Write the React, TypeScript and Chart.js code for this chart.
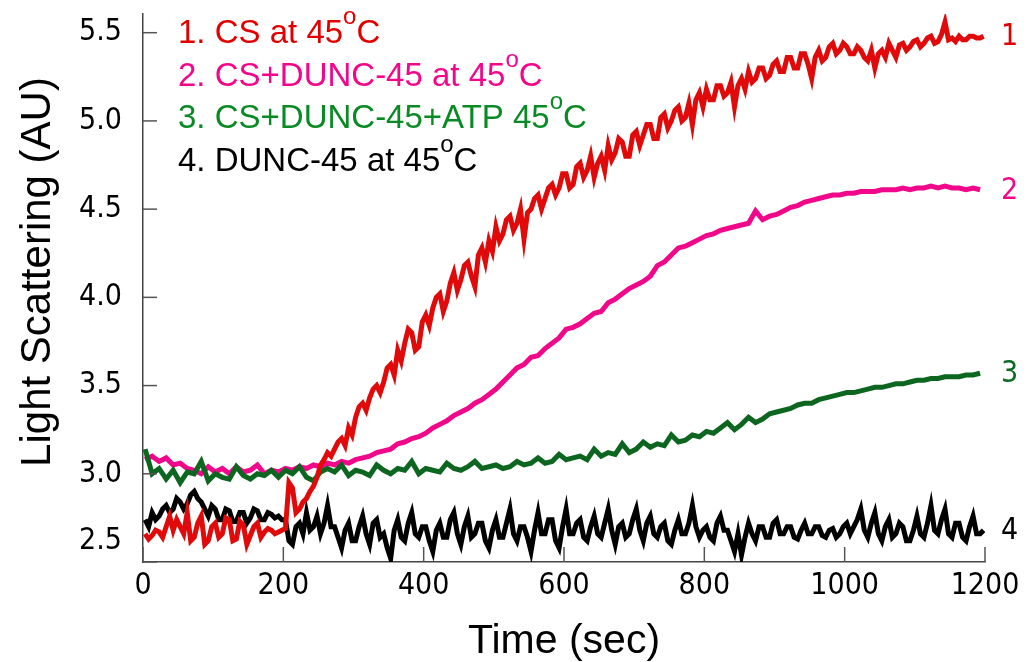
import React, { useEffect, useRef } from 'react';
import { Chart, registerables } from 'chart.js';

Chart.register(...registerables);

// sampling times (sec), 5 s grid for the noisy traces
const timesFine = [
  3, 8, 13, 18, 23, 28, 33, 38, 43, 48, 53, 58, 63, 68, 73, 78, 83, 88, 93, 98,
  103, 108, 113, 118, 123, 128, 133, 138, 143, 148, 153, 158, 163, 168, 173, 178, 183, 188, 193, 198,
  203, 208, 213, 218, 223, 228, 233, 238, 243, 248, 253, 258, 263, 268, 273, 278, 283, 288, 293, 298,
  303, 308, 313, 318, 323, 328, 333, 338, 343, 348, 353, 358, 363, 368, 373, 378, 383, 388, 393, 398,
  403, 408, 413, 418, 423, 428, 433, 438, 443, 448, 453, 458, 463, 468, 473, 478, 483, 488, 493, 498,
  503, 508, 513, 518, 523, 528, 533, 538, 543, 548, 553, 558, 563, 568, 573, 578, 583, 588, 593, 598,
  603, 608, 613, 618, 623, 628, 633, 638, 643, 648, 653, 658, 663, 668, 673, 678, 683, 688, 693, 698,
  703, 708, 713, 718, 723, 728, 733, 738, 743, 748, 753, 758, 763, 768, 773, 778, 783, 788, 793, 798,
  803, 808, 813, 818, 823, 828, 833, 838, 843, 848, 853, 858, 863, 868, 873, 878, 883, 888, 893, 898,
  903, 908, 913, 918, 923, 928, 933, 938, 943, 948, 953, 958, 963, 968, 973, 978, 983, 988, 993, 998,
  1003, 1008, 1013, 1018, 1023, 1028, 1033, 1038, 1043, 1048, 1053, 1058, 1063, 1068, 1073, 1078, 1083, 1088, 1093, 1098,
  1103, 1108, 1113, 1118, 1123, 1128, 1133, 1138, 1143, 1148, 1153, 1158, 1163, 1168, 1173, 1178, 1183, 1188, 1193, 1198,
];

// sampling times (sec), 10 s grid for the smoother traces
const timesCoarse = [
  3, 13, 23, 33, 43, 53, 63, 73, 83, 93,
  103, 113, 123, 133, 143, 153, 163, 173, 183, 193,
  203, 213, 223, 233, 243, 253, 263, 273, 283, 293,
  303, 313, 323, 333, 343, 353, 363, 373, 383, 393,
  403, 413, 423, 433, 443, 453, 463, 473, 483, 493,
  503, 513, 523, 533, 543, 553, 563, 573, 583, 593,
  603, 613, 623, 633, 643, 653, 663, 673, 683, 693,
  703, 713, 723, 733, 743, 753, 763, 773, 783, 793,
  803, 813, 823, 833, 843, 853, 863, 873, 883, 893,
  903, 913, 923, 933, 943, 953, 963, 973, 983, 993,
  1003, 1013, 1023, 1033, 1043, 1053, 1063, 1073, 1083, 1093,
  1103, 1113, 1123, 1133, 1143, 1153, 1163, 1173, 1183, 1193,
];

// 1. CS at 45°C (timesFine)
const csValues = [
  2.66, 2.63, 2.65, 2.68, 2.67, 2.64, 2.70, 2.76, 2.68, 2.74, 2.70, 2.66, 2.78, 2.62, 2.64, 2.72, 2.76, 2.60, 2.62, 2.70,
  2.72, 2.64, 2.66, 2.75, 2.74, 2.62, 2.63, 2.73, 2.71, 2.60, 2.65, 2.70, 2.72, 2.64, 2.67, 2.69, 2.68, 2.66, 2.67, 2.68,
  2.69, 2.95, 2.92, 2.78, 2.80, 2.84, 2.86, 2.90, 2.93, 2.98, 3.05, 3.08, 3.12, 3.10, 3.14, 3.18, 3.20, 3.16, 3.26, 3.22,
  3.32, 3.38, 3.40, 3.36, 3.43, 3.48, 3.50, 3.46, 3.52, 3.60, 3.62, 3.56, 3.70, 3.64, 3.74, 3.82, 3.80, 3.70, 3.72, 3.86,
  3.90, 3.84, 3.94, 4.00, 4.02, 3.92, 3.98, 4.08, 4.14, 4.04, 4.10, 4.18, 4.20, 4.12, 4.06, 4.24, 4.28, 4.20, 4.32, 4.26,
  4.40, 4.32, 4.36, 4.44, 4.46, 4.38, 4.42, 4.50, 4.33, 4.48, 4.50, 4.56, 4.58, 4.50, 4.56, 4.62, 4.64, 4.58, 4.62, 4.70,
  4.70, 4.62, 4.64, 4.74, 4.76, 4.68, 4.72, 4.80, 4.68, 4.76, 4.80, 4.72, 4.86, 4.78, 4.82, 4.90, 4.88, 4.80, 4.80, 4.92,
  4.94, 4.86, 4.92, 4.98, 4.98, 4.90, 4.90, 5.02, 5.04, 4.96, 5.00, 5.06, 5.08, 5.00, 5.02, 5.10, 4.98, 5.12, 5.16, 5.08,
  5.18, 5.12, 5.12, 5.20, 5.20, 5.14, 5.16, 5.22, 5.08, 5.20, 5.24, 5.18, 5.28, 5.22, 5.24, 5.30, 5.30, 5.24, 5.26, 5.32,
  5.34, 5.28, 5.28, 5.36, 5.36, 5.30, 5.30, 5.38, 5.38, 5.32, 5.24, 5.36, 5.40, 5.34, 5.36, 5.42, 5.44, 5.38, 5.40, 5.44,
  5.42, 5.38, 5.38, 5.42, 5.40, 5.36, 5.34, 5.40, 5.30, 5.38, 5.40, 5.36, 5.44, 5.40, 5.36, 5.43, 5.44, 5.40, 5.42, 5.45,
  5.46, 5.42, 5.44, 5.47, 5.48, 5.44, 5.45, 5.49, 5.56, 5.46, 5.47, 5.45, 5.48, 5.46, 5.46, 5.48, 5.48, 5.47, 5.47, 5.48,
];

// 2. CS+DUNC-45 at 45°C (timesCoarse)
const csDuncValues = [
  3.08, 3.10, 3.07, 3.09, 3.05, 3.06, 3.03, 3.02, 3.00, 3.04,
  3.01, 3.03, 3.00, 3.04, 3.01, 3.02, 3.05, 3.00, 3.02, 3.01,
  3.03, 3.02, 3.04, 3.03, 3.05, 3.04, 3.06, 3.05, 3.07, 3.06,
  3.08, 3.09, 3.10, 3.12, 3.13, 3.14, 3.17, 3.18, 3.20, 3.21,
  3.23, 3.26, 3.28, 3.30, 3.33, 3.35, 3.37, 3.40, 3.42, 3.45,
  3.48, 3.52, 3.56, 3.60, 3.62, 3.66, 3.67, 3.71, 3.74, 3.77,
  3.82, 3.83, 3.85, 3.88, 3.91, 3.92, 3.97, 3.99, 4.02, 4.05,
  4.07, 4.09, 4.12, 4.18, 4.20, 4.24, 4.28, 4.29, 4.31, 4.33,
  4.35, 4.36, 4.38, 4.39, 4.40, 4.41, 4.42, 4.49, 4.44, 4.46,
  4.47, 4.49, 4.51, 4.52, 4.54, 4.55, 4.56, 4.57, 4.58, 4.58,
  4.59, 4.59, 4.60, 4.60, 4.60, 4.61, 4.61, 4.61, 4.62, 4.61,
  4.62, 4.62, 4.63, 4.62, 4.63, 4.62, 4.62, 4.61, 4.62, 4.61,
];

// 3. CS+DUNC-45+ATP 45°C (timesCoarse)
const csDuncAtpValues = [
  3.14, 3.00, 3.03, 2.97, 3.02, 2.95, 3.01, 3.00, 3.07, 2.96,
  3.00, 2.98, 2.97, 3.04, 2.99, 2.97, 3.00, 2.99, 3.02, 2.98,
  3.02, 3.00, 3.04, 2.98, 2.96, 3.01, 3.03, 3.01, 3.05, 2.99,
  3.02, 3.01, 2.99, 3.05, 3.02, 3.00, 3.03, 3.02, 3.07, 3.00,
  3.03, 3.02, 3.01, 3.06, 3.03, 3.02, 3.04, 3.07, 3.03, 3.04,
  3.05, 3.03, 3.04, 3.07, 3.05, 3.06, 3.09, 3.06, 3.07, 3.11,
  3.08, 3.09, 3.10, 3.08, 3.14, 3.10, 3.12, 3.11, 3.17, 3.12,
  3.14, 3.18, 3.15, 3.17, 3.16, 3.22, 3.18, 3.19, 3.22, 3.21,
  3.24, 3.23, 3.26, 3.29, 3.25, 3.28, 3.32, 3.29, 3.31, 3.34,
  3.35, 3.36, 3.37, 3.39, 3.40, 3.40, 3.42, 3.43, 3.44, 3.45,
  3.46, 3.46, 3.47, 3.48, 3.49, 3.49, 3.50, 3.51, 3.51, 3.52,
  3.53, 3.53, 3.54, 3.54, 3.55, 3.55, 3.55, 3.56, 3.56, 3.57,
];

// 4. DUNC-45 at 45°C (timesFine)
const duncValues = [
  2.74, 2.70, 2.78, 2.74, 2.76, 2.80, 2.82, 2.78, 2.80, 2.86, 2.84, 2.80, 2.83, 2.88, 2.90, 2.86, 2.84, 2.80, 2.76, 2.82,
  2.80, 2.74, 2.74, 2.80, 2.79, 2.73, 2.73, 2.78, 2.78, 2.72, 2.75, 2.80, 2.79, 2.74, 2.74, 2.78, 2.77, 2.75, 2.76, 2.74,
  2.74, 2.62, 2.60, 2.70, 2.72, 2.66, 2.78, 2.68, 2.70, 2.76, 2.66, 2.72, 2.82, 2.70, 2.70, 2.64, 2.58, 2.68, 2.72, 2.62,
  2.62, 2.70, 2.76, 2.66, 2.60, 2.72, 2.74, 2.64, 2.66, 2.58, 2.52, 2.68, 2.74, 2.64, 2.62, 2.72, 2.78, 2.66, 2.64, 2.70,
  2.70, 2.62, 2.56, 2.68, 2.72, 2.64, 2.64, 2.74, 2.78, 2.66, 2.60, 2.70, 2.76, 2.64, 2.66, 2.72, 2.72, 2.62, 2.58, 2.68,
  2.74, 2.64, 2.64, 2.72, 2.80, 2.66, 2.62, 2.70, 2.70, 2.64, 2.56, 2.68, 2.78, 2.66, 2.66, 2.74, 2.74, 2.62, 2.58, 2.70,
  2.80, 2.66, 2.66, 2.72, 2.74, 2.64, 2.62, 2.70, 2.76, 2.66, 2.64, 2.72, 2.80, 2.68, 2.60, 2.70, 2.72, 2.64, 2.66, 2.74,
  2.80, 2.68, 2.62, 2.72, 2.76, 2.66, 2.64, 2.70, 2.72, 2.62, 2.60, 2.68, 2.74, 2.66, 2.66, 2.72, 2.82, 2.70, 2.64, 2.68,
  2.70, 2.64, 2.62, 2.72, 2.76, 2.68, 2.68, 2.62, 2.56, 2.66, 2.54, 2.64, 2.72, 2.66, 2.62, 2.70, 2.70, 2.64, 2.64, 2.72,
  2.74, 2.66, 2.66, 2.70, 2.70, 2.64, 2.63, 2.68, 2.72, 2.66, 2.66, 2.70, 2.70, 2.65, 2.64, 2.68, 2.69, 2.64, 2.66, 2.70,
  2.72, 2.66, 2.70, 2.74, 2.80, 2.68, 2.64, 2.72, 2.78, 2.66, 2.62, 2.70, 2.74, 2.64, 2.66, 2.72, 2.70, 2.62, 2.62, 2.68,
  2.76, 2.66, 2.64, 2.72, 2.82, 2.68, 2.66, 2.74, 2.80, 2.66, 2.64, 2.72, 2.72, 2.64, 2.62, 2.70, 2.76, 2.66, 2.66, 2.68,
];

const legendLabels = [
  '1. CS at 45°C',
  '2. CS+DUNC-45 at 45°C',
  '3. CS+DUNC-45+ATP 45°C',
  '4. DUNC-45 at 45°C',
];
const endLabels = ['1', '2', '3', '4'];
const yTickValues = [2.5, 3.0, 3.5, 4.0, 4.5, 5.0, 5.5];
const xTickValues = [0, 200, 400, 600, 800, 1000, 1200];
const xTitle = 'Time (sec)';
const yTitle = 'Light Scattering (AU)';

const lineColors = ['#e00a0a', '#f0078a', '#0d661f', '#000000'];
const textColors = ['#e00000', '#f2078c', '#0a8a24', '#000000'];
const endColors = ['#e00000', '#f2078c', '#0d6a22', '#000000'];

const TICK_FONT = "'DejaVu Sans Condensed', 'Liberation Sans', sans-serif";
const SANS = "'Liberation Sans', Arial, sans-serif";

export default function App() {
  const ref = useRef<HTMLCanvasElement>(null);

  useEffect(() => {
    const canvas = ref.current;
    if (!canvas) return;

    // index in legend order: 0 CS, 1 CS+DUNC, 2 CS+DUNC+ATP, 3 DUNC
    const series = [
      { vals: csValues, times: timesFine, idx: 0 },
      { vals: csDuncAtpValues, times: timesCoarse, idx: 2 },
      { vals: csDuncValues, times: timesCoarse, idx: 1 },
      { vals: duncValues, times: timesFine, idx: 3 },
    ];

    const toPoints = (ts: number[], vals: number[]) => ts.map((t, i) => ({ x: t, y: vals[i] }));

    const decor = {
      id: 'decor',
      afterDatasetsDraw(chart: any) {
        const { ctx, chartArea, scales } = chart;
        const { left, bottom } = chartArea;
        const x = scales.x;
        const y = scales.y;
        ctx.save();
        // inward tick marks
        ctx.strokeStyle = '#555555';
        ctx.lineWidth = 1.5;
        for (const v of yTickValues) {
          const py = y.getPixelForValue(v);
          ctx.beginPath();
          ctx.moveTo(left, py);
          ctx.lineTo(left + 14, py);
          ctx.stroke();
        }
        for (const v of xTickValues) {
          const px = x.getPixelForValue(v);
          ctx.beginPath();
          ctx.moveTo(px, bottom);
          ctx.lineTo(px, bottom - 15);
          ctx.stroke();
        }

        // lowest y tick label, lifted above the x axis
        ctx.fillStyle = '#000';
        ctx.font = `30px ${TICK_FONT}`;
        ctx.textAlign = 'right';
        ctx.textBaseline = 'middle';
        ctx.fillText(yTickValues[0].toFixed(1), left - 21, y.getPixelForValue(yTickValues[0]) - 21);

        // y axis title
        ctx.save();
        ctx.translate(50, 272);
        ctx.rotate(-Math.PI / 2);
        ctx.font = `42px ${SANS}`;
        ctx.textAlign = 'center';
        ctx.textBaseline = 'alphabetic';
        ctx.fillStyle = '#000';
        ctx.fillText(yTitle, 0, 0);
        ctx.restore();

        // legend text
        ctx.textAlign = 'left';
        ctx.textBaseline = 'alphabetic';
        const legendX = 178;
        const baselines = [43, 85.5, 128, 171];
        legendLabels.forEach((label, i) => {
          const [head, tail] = label.split('°');
          ctx.fillStyle = textColors[i];
          ctx.font = `33px ${SANS}`;
          let cx = legendX;
          ctx.fillText(head, cx, baselines[i]);
          cx += ctx.measureText(head).width;
          ctx.font = `24px ${SANS}`;
          ctx.fillText('o', cx, baselines[i] - 19);
          cx += ctx.measureText('o').width;
          ctx.font = `33px ${SANS}`;
          ctx.fillText(tail, cx, baselines[i]);
        });

        // curve end labels
        ctx.font = `30px ${TICK_FONT}`;
        ctx.textBaseline = 'middle';
        series.forEach((s) => {
          ctx.fillStyle = endColors[s.idx];
          ctx.fillText(endLabels[s.idx], 1001, y.getPixelForValue(s.vals[s.vals.length - 1]) + 1);
        });
        ctx.restore();
      },
    };

    const chart = new Chart(canvas, {
      type: 'line',
      data: {
        datasets: series.map((s) => ({
          label: legendLabels[s.idx],
          data: toPoints(s.times, s.vals),
          borderColor: lineColors[s.idx],
          backgroundColor: lineColors[s.idx],
          borderWidth: 5,
          pointRadius: 0,
          tension: 0,
          fill: false,
        })),
      },
      options: {
        animation: false,
        responsive: false,
        devicePixelRatio: 1,
        layout: { padding: { top: 14, right: 43, left: 0, bottom: 0 } },
        plugins: {
          legend: { display: false },
          tooltip: { enabled: false },
        },
        scales: {
          x: {
            type: 'linear',
            min: 0,
            max: 1200,
            afterBuildTicks: (scale: any) => {
              scale.ticks = xTickValues.map((v) => ({ value: v }));
            },
            ticks: {
              color: '#000',
              font: { family: TICK_FONT, size: 30 },
              padding: 6,
              maxRotation: 0,
              autoSkip: false,
              callback: (v: any) => String(v),
            },
            grid: { display: false, drawTicks: false },
            border: { display: true, color: '#444444', width: 1.5 },
            title: {
              display: true,
              text: xTitle,
              color: '#000',
              font: { family: SANS, size: 41, lineHeight: 1 },
              padding: { top: 0, bottom: 0 },
            },
            afterFit: (scale: any) => {
              scale.height = 100;
              scale.paddingLeft = 0;
              scale.paddingRight = 0;
            },
          },
          y: {
            type: 'linear',
            min: 2.5,
            max: 5.606,
            afterBuildTicks: (scale: any) => {
              scale.ticks = yTickValues.map((v) => ({ value: v }));
            },
            ticks: {
              color: '#000',
              font: { family: TICK_FONT, size: 30 },
              padding: 21,
              autoSkip: false,
              callback: (v: any) => (Number(v) === yTickValues[0] ? '' : Number(v).toFixed(1)),
            },
            grid: { display: false, drawTicks: false },
            border: { display: true, color: '#444444', width: 1.5 },
            afterFit: (scale: any) => {
              scale.width = 143;
              scale.paddingTop = 0;
              scale.paddingBottom = 0;
            },
          },
        },
      },
      plugins: [decor],
    });

    return () => chart.destroy();
  }, []);

  return (
    <div style={{ position: 'absolute', left: 0, top: 0, width: 1028, height: 662, background: '#ffffff' }}>
      <canvas ref={ref} width={1028} height={662} style={{ display: 'block', width: 1028, height: 662 }} />
    </div>
  );
}
